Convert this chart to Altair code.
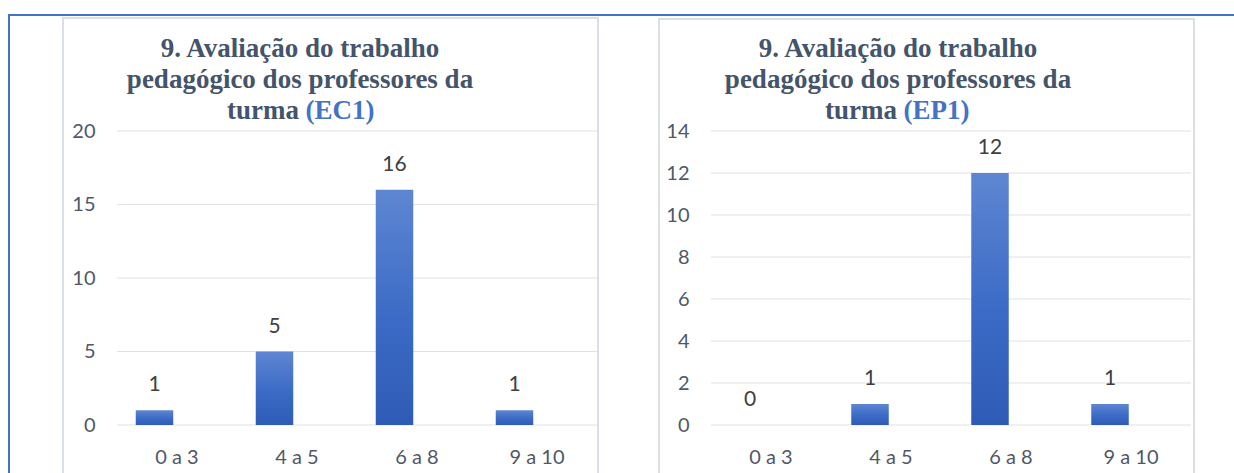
import altair as alt
import pandas as pd

categories = ["0 a 3", "4 a 5", "6 a 8", "9 a 10"]
ec1_values = [1, 5, 16, 1]
ep1_values = [0, 1, 12, 1]
ec1_ticks = [0, 5, 10, 15, 20]
ep1_ticks = [0, 2, 4, 6, 8, 10, 12, 14]
title_lines = ["9. Avaliação do trabalho", "pedagógico dos professores da", "turma"]
tags = ["(EC1)", "(EP1)"]

W, H = 1234, 473
TEXT = "#505868"
TITLE = "#44546A"
BLUE = "#4472C4"
GRID = "#DEE1E8"
BORDER = "#DADEE6"

grad = alt.Gradient(
    gradient="linear",
    stops=[alt.GradientStop(color="#5E86D2", offset=0),
           alt.GradientStop(color="#3B6BC6", offset=0.55),
           alt.GradientStop(color="#2E5BB6", offset=1)],
    x1=0, x2=0, y1=0, y2=1,
)

one = pd.DataFrame({"a": [0]})


def panel(values, ticks, ymax, xrange, bar_shift, tag, title_cx):
    df = pd.DataFrame({"cat": categories, "v": values})
    tdf = pd.DataFrame({"t": ticks})
    xs = alt.Scale(domain=categories, range=xrange, paddingInner=0, paddingOuter=0)
    ys = alt.Scale(domain=[0, ymax], range=[425, 131], nice=False, zero=True)

    grid = alt.Chart(tdf).mark_rule(color=GRID, strokeWidth=1).encode(
        y=alt.Y("t:Q", scale=ys, axis=None),
        x=alt.value(xrange[0]), x2=alt.value(xrange[1]),
    )
    bars = alt.Chart(df).mark_bar(
        color=grad, width=37.5, xOffset=bar_shift
    ).encode(
        x=alt.X("cat:N", scale=xs, sort=categories,
                axis=alt.Axis(orient="bottom", offset=-(H - 425), title=None,
                              domain=False, ticks=False, labelAngle=0,
                              labelFont="Lato", labelFontSize=20, labelColor=TEXT,
                              labelPadding=22, grid=False)),
        y=alt.Y("v:Q", scale=ys,
                axis=alt.Axis(orient="left", offset=-xrange[0], title=None,
                              domain=False, ticks=False, grid=False,
                              values=ticks, labelFont="Lato", labelFontSize=20,
                              labelColor=TEXT, labelPadding=22)),
    )
    labels = alt.Chart(df).mark_text(
        font="Lato", fontSize=21, color="#404040", baseline="middle",
        dy=-25, xOffset=bar_shift,
    ).encode(
        x=alt.X("cat:N", scale=xs, sort=categories, axis=None),
        y=alt.Y("v:Q", scale=ys, axis=None),
        text="v:Q",
    )
    tstyle = dict(font="Liberation Serif", fontWeight="bold", fontSize=27, color=TITLE)
    t1 = alt.Chart(one).mark_text(align="center", **tstyle).encode(
        x=alt.value(title_cx), y=alt.value(49), text=alt.value(title_lines[0]))
    t2 = alt.Chart(one).mark_text(align="center", **tstyle).encode(
        x=alt.value(title_cx), y=alt.value(80), text=alt.value(title_lines[1]))
    t3 = alt.Chart(one).mark_text(align="right", **tstyle).encode(
        x=alt.value(title_cx - 1), y=alt.value(111), text=alt.value(title_lines[2]))
    t4 = alt.Chart(one).mark_text(
        align="left", font="Liberation Serif", fontWeight="bold", fontSize=27, color=BLUE
    ).encode(x=alt.value(title_cx + 5.5), y=alt.value(111), text=alt.value(tag))
    return [grid, bars, labels, t1, t2, t3, t4]


frame_top = alt.Chart(one).mark_rule(color=BLUE, strokeWidth=2).encode(
    x=alt.value(8), x2=alt.value(W), y=alt.value(15))
frame_left = alt.Chart(one).mark_rule(color=BLUE, strokeWidth=2).encode(
    x=alt.value(9), y=alt.value(15), y2=alt.value(H))
box_left = alt.Chart(one).mark_rect(fillOpacity=0, stroke=BORDER, strokeWidth=2).encode(
    x=alt.value(63), x2=alt.value(598), y=alt.value(18), y2=alt.value(H + 20))
box_right = alt.Chart(one).mark_rect(fillOpacity=0, stroke=BORDER, strokeWidth=2).encode(
    x=alt.value(659), x2=alt.value(1194), y=alt.value(19), y2=alt.value(H + 20))

left = panel(ec1_values, ec1_ticks, 20, [117, 597], -22.5, tags[0], 300)
right = panel(ep1_values, ep1_ticks, 14, [711, 1191], -21, tags[1], 898)

chart = alt.layer(
    frame_top, frame_left, box_left, box_right, *left, *right
).resolve_scale(x="independent", y="independent").properties(
    width=W, height=H, padding=0, autosize=alt.AutoSizeParams(type="none"),
    background="white",
).configure_view(stroke=None)

chart.save("out.html", embed_options={"renderer": "svg", "actions": False})
